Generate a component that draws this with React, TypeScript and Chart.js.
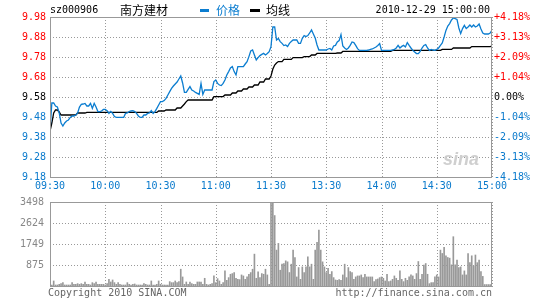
import React, { useEffect, useRef } from 'react';
import { Chart, registerables } from 'chart.js';

Chart.register(...registerables);

const PREV_CLOSE = 9.58;
const TIME_TICKS = [0, 30, 60, 90, 120, 150, 180, 210, 240];
const TIME_LABELS = ['09:30', '10:00', '10:30', '11:00', '11:30', '13:30', '14:00', '14:30', '15:00'];
const PRICE_TICKS = [9.18, 9.28, 9.38, 9.48, 9.58, 9.68, 9.78, 9.88, 9.98];
const PRICE_LABELS = ['9.18', '9.28', '9.38', '9.48', '9.58', '9.68', '9.78', '9.88', '9.98'];
const PCT_LABELS = ['-4.18%', '-3.13%', '-2.09%', '-1.04%', '0.00%', '+1.04%', '+2.09%', '+3.13%', '+4.18%'];
const VOL_TICKS = [0, 875, 1749, 2624, 3498];
const VOL_LABELS = ['', '875', '1749', '2624', '3498'];

const PRICE = [
  9.41, 9.55, 9.55, 9.535, 9.53, 9.50, 9.45, 9.435, 9.45, 9.46,
  9.465, 9.478, 9.485, 9.485, 9.49, 9.50, 9.53, 9.543, 9.545, 9.548,
  9.535, 9.535, 9.548, 9.523, 9.548, 9.53, 9.507, 9.507, 9.51, 9.518,
  9.518, 9.512, 9.498, 9.508, 9.498, 9.482, 9.478, 9.478, 9.478, 9.478,
  9.478, 9.498, 9.50, 9.507, 9.51, 9.512, 9.507, 9.498, 9.485, 9.478,
  9.478, 9.49, 9.49, 9.498, 9.50, 9.512, 9.498, 9.507, 9.523, 9.54,
  9.557, 9.557, 9.562, 9.573, 9.59, 9.607, 9.623, 9.635, 9.645, 9.655,
  9.67, 9.685, 9.65, 9.603, 9.603, 9.618, 9.632, 9.615, 9.61, 9.603,
  9.598, 9.593, 9.648, 9.593, 9.615, 9.615, 9.615, 9.615, 9.615, 9.657,
  9.665, 9.648, 9.64, 9.637, 9.648, 9.665, 9.69, 9.707, 9.725, 9.732,
  9.707, 9.69, 9.732, 9.732, 9.732, 9.732, 9.745, 9.757, 9.782, 9.81,
  9.815, 9.79, 9.765, 9.777, 9.787, 9.793, 9.798, 9.79, 9.798, 9.807,
  9.832, 9.93, 9.93, 9.865, 9.873, 9.857, 9.848, 9.837, 9.84, 9.832,
  9.848, 9.857, 9.865, 9.865, 9.865, 9.848, 9.848, 9.873, 9.887, 9.882,
  9.887, 9.90, 9.915, 9.895, 9.875, 9.84, 9.815, 9.815, 9.815, 9.815,
  9.815, 9.82, 9.823, 9.815, 9.835, 9.838, 9.855, 9.862, 9.892, 9.835,
  9.825, 9.818, 9.825, 9.838, 9.855, 9.852, 9.838, 9.822, 9.813, 9.813,
  9.813, 9.813, 9.813, 9.815, 9.818, 9.82, 9.825, 9.83, 9.838, 9.847,
  9.813, 9.813, 9.813, 9.813, 9.813, 9.813, 9.815, 9.818, 9.825, 9.838,
  9.825, 9.833, 9.838, 9.83, 9.852, 9.838, 9.825, 9.813, 9.805, 9.797,
  9.797, 9.808, 9.825, 9.838, 9.842, 9.825, 9.813, 9.818, 9.815, 9.813,
  9.818, 9.825, 9.838, 9.85, 9.88, 9.913, 9.935, 9.947, 9.965, 9.975,
  9.972, 9.968, 9.925, 9.897, 9.922, 9.938, 9.922, 9.93, 9.94, 9.93,
  9.94, 9.93, 9.935, 9.945, 9.92, 9.90, 9.895, 9.895, 9.895, 9.90, 9.915,
];

const AVG = [
  9.41, 9.45, 9.50, 9.515, 9.515, 9.505, 9.49, 9.49, 9.49, 9.49,
  9.49, 9.49, 9.49, 9.49, 9.49, 9.50, 9.50, 9.50, 9.50, 9.50,
  9.503, 9.503, 9.503, 9.503, 9.503, 9.503, 9.503, 9.503, 9.503, 9.503,
  9.503, 9.503, 9.503, 9.503, 9.503, 9.503, 9.503, 9.503, 9.503, 9.503,
  9.503, 9.503, 9.503, 9.503, 9.503, 9.503, 9.503, 9.503, 9.503, 9.503,
  9.503, 9.503, 9.503, 9.503, 9.503, 9.503, 9.503, 9.503, 9.503, 9.51,
  9.51, 9.51, 9.51, 9.515, 9.515, 9.515, 9.515, 9.515, 9.515, 9.525,
  9.525, 9.525, 9.535, 9.545, 9.557, 9.565, 9.565, 9.565, 9.565, 9.565,
  9.565, 9.565, 9.565, 9.565, 9.565, 9.565, 9.565, 9.565, 9.565, 9.582,
  9.582, 9.582, 9.582, 9.582, 9.582, 9.59, 9.59, 9.59, 9.59, 9.60,
  9.60, 9.60, 9.61, 9.61, 9.61, 9.62, 9.62, 9.62, 9.63, 9.63,
  9.63, 9.64, 9.64, 9.64, 9.655, 9.655, 9.655, 9.67, 9.67, 9.67,
  9.685, 9.72, 9.74, 9.75, 9.757, 9.757, 9.757, 9.768, 9.768, 9.768,
  9.768, 9.768, 9.777, 9.777, 9.777, 9.777, 9.777, 9.777, 9.782, 9.782,
  9.782, 9.782, 9.79, 9.79, 9.79, 9.798, 9.798, 9.798, 9.798, 9.798,
  9.798, 9.798, 9.798, 9.798, 9.798, 9.798, 9.80, 9.80, 9.80, 9.808,
  9.808, 9.808, 9.808, 9.808, 9.808, 9.808, 9.808, 9.808, 9.808, 9.808,
  9.808, 9.808, 9.808, 9.808, 9.808, 9.808, 9.808, 9.808, 9.808, 9.808,
  9.808, 9.808, 9.808, 9.808, 9.808, 9.808, 9.813, 9.813, 9.813, 9.813,
  9.813, 9.813, 9.813, 9.813, 9.813, 9.813, 9.813, 9.813, 9.813, 9.813,
  9.813, 9.813, 9.813, 9.813, 9.813, 9.813, 9.813, 9.813, 9.813, 9.813,
  9.813, 9.813, 9.813, 9.818, 9.818, 9.818, 9.818, 9.818, 9.818, 9.825,
  9.825, 9.825, 9.825, 9.825, 9.825, 9.825, 9.825, 9.825, 9.825, 9.832,
  9.832, 9.832, 9.832, 9.832, 9.832, 9.832, 9.832, 9.832, 9.832, 9.832, 9.835,
];

const VOLUME = [
  98, 42, 210, 42, 42, 70, 98, 140, 42, 42,
  42, 42, 140, 70, 70, 98, 70, 98, 70, 168,
  70, 70, 42, 140, 98, 168, 70, 70, 70, 70,
  42, 98, 279, 168, 251, 140, 70, 140, 70, 42,
  42, 42, 140, 70, 42, 70, 84, 42, 42, 42,
  42, 98, 70, 42, 42, 210, 42, 42, 70, 210,
  70, 42, 42, 42, 42, 182, 140, 140, 210, 140,
  182, 699, 377, 70, 168, 70, 168, 98, 70, 70,
  168, 168, 168, 70, 321, 70, 42, 70, 98, 419,
  140, 307, 210, 70, 140, 629, 237, 349, 489, 517,
  559, 321, 279, 265, 461, 419, 279, 377, 489, 559,
  699, 1327, 321, 587, 349, 517, 489, 699, 461, 70,
  3498, 3498, 2934, 1495, 1774, 657, 908, 936, 1048, 1006,
  560, 908, 1495, 1187, 377, 768, 279, 796, 559, 796,
  1215, 796, 908, 279, 1495, 1816, 2333, 1495, 1006, 796,
  559, 740, 489, 601, 349, 251, 237, 265, 237, 461,
  908, 349, 768, 601, 559, 279, 377, 419, 419, 461,
  349, 489, 377, 377, 377, 377, 182, 265, 293, 349,
  377, 321, 210, 489, 182, 210, 279, 419, 321, 237,
  629, 279, 182, 321, 237, 377, 461, 419, 279, 517,
  1020, 279, 489, 866, 936, 489, 98, 140, 140, 377,
  461, 377, 1495, 1355, 1607, 1257, 1187, 1160, 880, 2053,
  880, 1076, 768, 796, 461, 629, 461, 1355, 972, 1257,
  833, 1291, 972, 1083, 600, 400, 60, 60, 60, 60, 1000,
];

const MONO = '"DejaVu Sans Mono", "Liberation Mono", monospace';
const CJK = '"Noto Sans CJK SC", sans-serif';
const RED = '#ff0000';
const BLUE = '#0a7acc';
const LINE_BLUE = '#0b7dd0';
const GRID = '#999999';
const FRAME = '#999999';

// dotted grid at the scales' own tick positions (1px dots every 3px), then a solid frame
const gridPlugin = {
  id: 'dotgrid',
  beforeDatasetsDraw(chart: any) {
    const { left, top, right, bottom } = chart.chartArea;
    const ctx = chart.ctx;
    const sx = chart.scales.x;
    const sy = chart.scales.y;
    const L = Math.round(left);
    const T = Math.round(top);
    const R = Math.round(right);
    const B = Math.round(bottom);
    ctx.save();
    ctx.setLineDash([]);
    ctx.globalAlpha = 1;
    ctx.fillStyle = GRID;
    sx.ticks.forEach((t: any) => {
      const px = Math.round(sx.getPixelForValue(t.value));
      for (let y = T; y <= B; y += 3) ctx.fillRect(px, y, 1, 1);
    });
    sy.ticks.forEach((t: any) => {
      const py = Math.round(sy.getPixelForValue(t.value));
      for (let x = L; x <= R; x += 3) ctx.fillRect(x, py, 1, 1);
    });
    ctx.restore();
  },
  afterDraw(chart: any) {
    const { left, top, right, bottom } = chart.chartArea;
    const ctx = chart.ctx;
    ctx.save();
    ctx.strokeStyle = FRAME;
    ctx.lineWidth = 1;
    ctx.setLineDash([]);
    ctx.strokeRect(Math.round(left) + 0.5, Math.round(top) + 0.5, Math.round(right - left) - 1, Math.round(bottom - top));
    ctx.restore();
  },
};

function levelColor(v: number) {
  if (Math.abs(v - PREV_CLOSE) < 1e-6) return '#000000';
  return v > PREV_CLOSE ? RED : BLUE;
}

export default function App() {
  const priceRef = useRef<HTMLCanvasElement>(null);
  const volRef = useRef<HTMLCanvasElement>(null);

  useEffect(() => {
    const font = { family: MONO, size: 10 };
    const priceChart = new Chart(priceRef.current as HTMLCanvasElement, {
      type: 'line',
      data: {
        datasets: [
          {
            data: PRICE.map((v, i) => ({ x: i, y: v })),
            borderColor: LINE_BLUE,
            borderWidth: 1.3,
            pointRadius: 0,
            fill: false,
            tension: 0,
          },
          {
            data: AVG.map((v, i) => ({ x: i, y: v })),
            borderColor: '#000000',
            borderWidth: 1.3,
            pointRadius: 0,
            fill: false,
            tension: 0,
          },
        ],
      },
      options: {
        responsive: false,
        maintainAspectRatio: false,
        animation: false,
        events: [],
        layout: { padding: { top: 17, left: 0, right: 0, bottom: 0 } },
        plugins: { legend: { display: false }, tooltip: { enabled: false } },
        scales: {
          x: {
            type: 'linear',
            min: 0,
            max: 240,
            afterBuildTicks: (s: any) => { s.ticks = TIME_TICKS.map((v) => ({ value: v })); },
            afterFit: (s: any) => { s.height = 19; },
            grid: { display: false, drawTicks: false },
            border: { display: false },
            ticks: {
              font,
              color: BLUE,
              padding: 3,
              maxRotation: 0,
              autoSkip: false,
              callback: (v: any) => TIME_LABELS[TIME_TICKS.indexOf(v)] ?? '',
            },
          },
          y: {
            position: 'left',
            min: 9.18,
            max: 9.98,
            afterBuildTicks: (s: any) => { s.ticks = PRICE_TICKS.map((v) => ({ value: v })); },
            afterFit: (s: any) => { s.width = 50; },
            grid: { display: false, drawTicks: false },
            border: { display: false },
            ticks: {
              font,
              padding: 4,
              autoSkip: false,
              color: (c: any) => levelColor(c.tick.value),
              callback: (v: any) => PRICE_LABELS[PRICE_TICKS.findIndex((t) => Math.abs(t - v) < 1e-6)] ?? '',
            },
          },
          y2: {
            position: 'right',
            min: 9.18,
            max: 9.98,
            afterBuildTicks: (s: any) => { s.ticks = PRICE_TICKS.map((v) => ({ value: v })); },
            afterFit: (s: any) => { s.width = 53; },
            grid: { display: false, drawTicks: false },
            border: { display: false },
            ticks: {
              font,
              padding: 2,
              autoSkip: false,
              color: (c: any) => levelColor(c.tick.value),
              callback: (v: any) => PCT_LABELS[PRICE_TICKS.findIndex((t) => Math.abs(t - v) < 1e-6)] ?? '',
            },
          },
        },
      } as any,
      plugins: [gridPlugin],
    });

    const volChart = new Chart(volRef.current as HTMLCanvasElement, {
      type: 'bar',
      data: {
        datasets: [
          {
            data: VOLUME.map((v, i) => ({ x: i, y: v })),
            backgroundColor: '#999999',
            borderWidth: 0,
            barThickness: 1,
          },
        ],
      },
      options: {
        responsive: false,
        maintainAspectRatio: false,
        animation: false,
        events: [],
        layout: { autoPadding: false, padding: { top: 6, left: 0, right: 53, bottom: 0 } },
        plugins: { legend: { display: false }, tooltip: { enabled: false } },
        scales: {
          x: {
            type: 'linear',
            min: 0,
            max: 240,
            offset: false,
            afterBuildTicks: (s: any) => { s.ticks = TIME_TICKS.map((v) => ({ value: v })); },
            afterFit: (s: any) => { s.height = 2; },
            grid: { display: false, drawTicks: false, offset: false },
            border: { display: false },
            ticks: { display: false },
          },
          y: {
            position: 'left',
            min: 0,
            max: 3498,
            afterBuildTicks: (s: any) => { s.ticks = VOL_TICKS.map((v) => ({ value: v })); },
            afterFit: (s: any) => { s.width = 50; },
            grid: { display: false, drawTicks: false },
            border: { display: false },
            ticks: {
              font,
              color: '#888888',
              padding: 6,
              autoSkip: false,
              callback: (v: any) => VOL_LABELS[VOL_TICKS.indexOf(v)] ?? '',
            },
          },
        },
      } as any,
      plugins: [gridPlugin],
    });

    return () => {
      priceChart.destroy();
      volChart.destroy();
    };
  }, []);

  const txt = (extra: any) => ({
    position: 'absolute' as const,
    fontFamily: MONO,
    fontSize: 10,
    lineHeight: '12px',
    whiteSpace: 'nowrap' as const,
    ...extra,
  });

  return (
    <div style={{ position: 'fixed', left: 0, top: 0, width: 545, height: 300, background: '#ffffff', overflow: 'hidden' }}>
      <canvas ref={priceRef} width={545} height={196} style={{ position: 'absolute', left: 0, top: 0, width: 545, height: 196 }} />
      <canvas ref={volRef} width={545} height={108} style={{ position: 'absolute', left: 0, top: 190, width: 545, height: 108 }} />
      <div style={txt({ left: 50, top: 4, color: '#000' })}>sz000906</div>
      <div style={txt({ left: 120, top: 3, color: '#000', fontFamily: CJK, fontSize: 12, lineHeight: '14px' })}>南方建材</div>
      <div style={{ position: 'absolute', left: 200, top: 9, width: 9, height: 3, background: LINE_BLUE }} />
      <div style={txt({ left: 216, top: 3, color: LINE_BLUE, fontFamily: CJK, fontSize: 12, lineHeight: '14px' })}>价格</div>
      <div style={{ position: 'absolute', left: 250, top: 9, width: 10, height: 3, background: '#000' }} />
      <div style={txt({ left: 266, top: 3, color: '#000', fontFamily: CJK, fontSize: 12, lineHeight: '14px' })}>均线</div>
      <div style={txt({ right: 545 - 490, top: 4, color: '#000' })}>2010-12-29 15:00:00</div>
      <div style={txt({ left: 443, top: 149, color: '#cfcfcf', fontFamily: '"Liberation Sans", sans-serif', fontSize: 18, lineHeight: '20px', fontStyle: 'italic', fontWeight: 'bold' })}>sina</div>
      <div style={txt({ left: 48, top: 287, color: '#666' })}>Copyright 2010 SINA.COM</div>
      <div style={txt({ right: 545 - 492, top: 287, color: '#666' })}>http://finance.sina.com.cn</div>
    </div>
  );
}
